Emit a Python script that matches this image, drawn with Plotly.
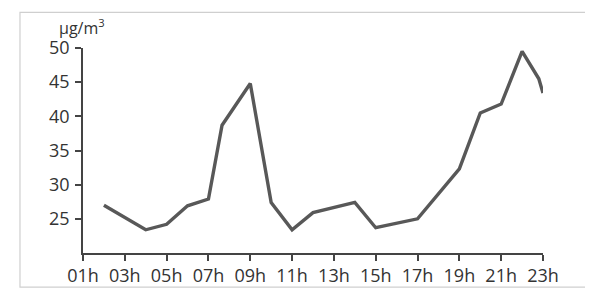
import plotly.graph_objects as go

# hours (x) and concentration values (µg/m³)
hours = [2, 4, 5, 6, 7, 7.65, 9, 10, 11, 12, 14, 15, 17, 19, 20, 21, 22, 22.8, 23.0]
values = [27.0, 23.4, 24.2, 26.9, 27.9, 38.7, 44.8, 27.4, 23.4, 25.9, 27.4, 23.7, 25.0, 32.3, 40.5, 41.8, 49.5, 45.5, 43.4]

x_tick_vals = [1, 3, 5, 7, 9, 11, 13, 15, 17, 19, 21, 23]
x_tick_text = ["01h", "03h", "05h", "07h", "09h", "11h", "13h", "15h", "17h", "19h", "21h", "23h"]
y_tick_vals = [25, 30, 35, 40, 45, 50]
y_tick_text = ["25", "30", "35", "40", "45", "50"]
unit_label = "µg/m<sup>3</sup>"

FONT = "Open Sans"
TXT = "#333333"

fig = go.Figure()
fig.add_trace(go.Scatter(
    x=hours, y=values, mode="lines",
    line=dict(color="#585858", width=3.4),
    line_shape="linear", cliponaxis=False,
    hoverinfo="skip", showlegend=False,
))

fig.update_layout(
    width=593, height=291,
    margin=dict(l=75, r=58, t=40, b=38),
    paper_bgcolor="white", plot_bgcolor="white",
    font=dict(family=FONT, color=TXT, size=18),
    xaxis=dict(
        range=[1, 23], tickvals=x_tick_vals, ticktext=x_tick_text,
        showgrid=False, zeroline=False,
        showline=True, linecolor="#444444", linewidth=1.5,
        ticks="outside", ticklen=6, tickwidth=1.5, tickcolor="#444444",
        tickfont=dict(size=18, color=TXT, family=FONT),
        fixedrange=True,
    ),
    yaxis=dict(
        range=[20, 50], tickvals=y_tick_vals, ticktext=y_tick_text,
        showgrid=False, zeroline=False,
        showline=True, linecolor="#444444", linewidth=1.5,
        ticks="outside", ticklen=6, tickwidth=1.5, tickcolor="#444444",
        tickfont=dict(size=18, color=TXT, family=FONT),
        ticklabelstandoff=2,
        fixedrange=True,
    ),
    shapes=[dict(
        type="rect", xref="paper", yref="paper",
        x0=-0.137, x1=1.115, y0=-0.166, y1=1.174,
        line=dict(color="#cfcfcf", width=1.2), fillcolor="rgba(0,0,0,0)",
        layer="below",
    )],
    annotations=[dict(
        text=unit_label, xref="paper", yref="paper",
        x=-0.056, y=1.1, xanchor="left", yanchor="middle",
        showarrow=False, font=dict(size=16, color=TXT, family=FONT),
    )],
)

fig.write_html("out.html")
